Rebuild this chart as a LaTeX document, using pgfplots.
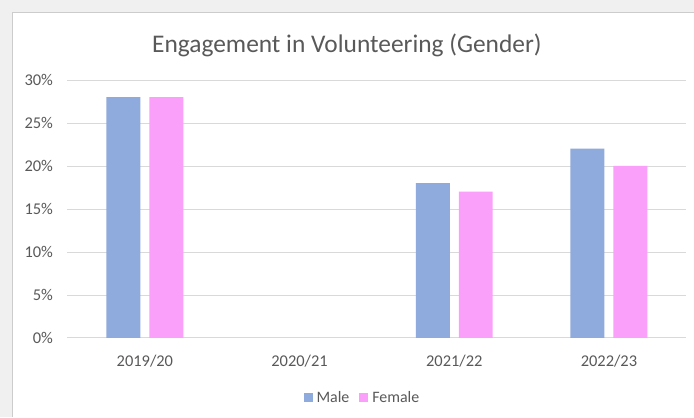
\documentclass[border=0pt]{standalone}
\usepackage{pgfplots}
\pgfplotsset{compat=1.18}
\usepackage{fontspec}
\setmainfont{Carlito}
\definecolor{male}{RGB}{143,170,220}
\definecolor{female}{RGB}{250,160,250}
\definecolor{txt}{RGB}{89,89,89}
\definecolor{gridc}{RGB}{217,217,217}
\begin{document}
\begin{tikzpicture}[x=1bp,y=1bp]
\fill[black!6] (0,0) rectangle (694,417);
\fill[white] (12,0) rectangle (694,405);
\draw[black!20] (12,0) -- (12,405) -- (694,405);
\node[txt, font=\fontsize{25.5}{28}\selectfont] at (347,372) {Engagement in Volunteering (Gender)};
\begin{axis}[
  at={(67.5bp,79bp)}, anchor=south west,
  scale only axis, width=619bp, height=258bp,
  ymin=0, ymax=30, xmin=-0.5, xmax=3.5,
  ybar=9bp, bar width=34bp,
  ytick={0,5,...,30},
  yticklabel={\pgfmathprintnumber{\tick}\%},
  /pgf/number format/assume math mode=true,
  xtick={0,1,2,3},
  xticklabels={2019/20,2020/21,2021/22,2022/23},
  major tick length=0pt,
  ymajorgrids, grid style={gridc, line width=0.8bp},
  axis line style={draw=none},
  tick label style={txt, font=\fontsize{16.5}{18}\selectfont},
  xticklabel style={yshift=-14bp},
  yticklabel style={xshift=-11bp},
  legend style={at={(0.4766,-0.2326)}, anchor=center, draw=none, fill=none,
    legend columns=2, font=\fontsize{16}{18}\selectfont, text=txt,
    /tikz/every odd column/.append style={column sep=2bp},
    /tikz/every even column/.append style={column sep=8bp}},
  legend image code/.code={\fill[#1] (0bp,-4.5bp) rectangle (9bp,4.5bp);},
]
\addplot[fill=male, draw=none] coordinates {(0,28) (2,18) (3,22)};
\addplot[fill=female, draw=none] coordinates {(0,28) (2,17) (3,20)};
\legend{Male,Female}
\end{axis}
\end{tikzpicture}
\end{document}
